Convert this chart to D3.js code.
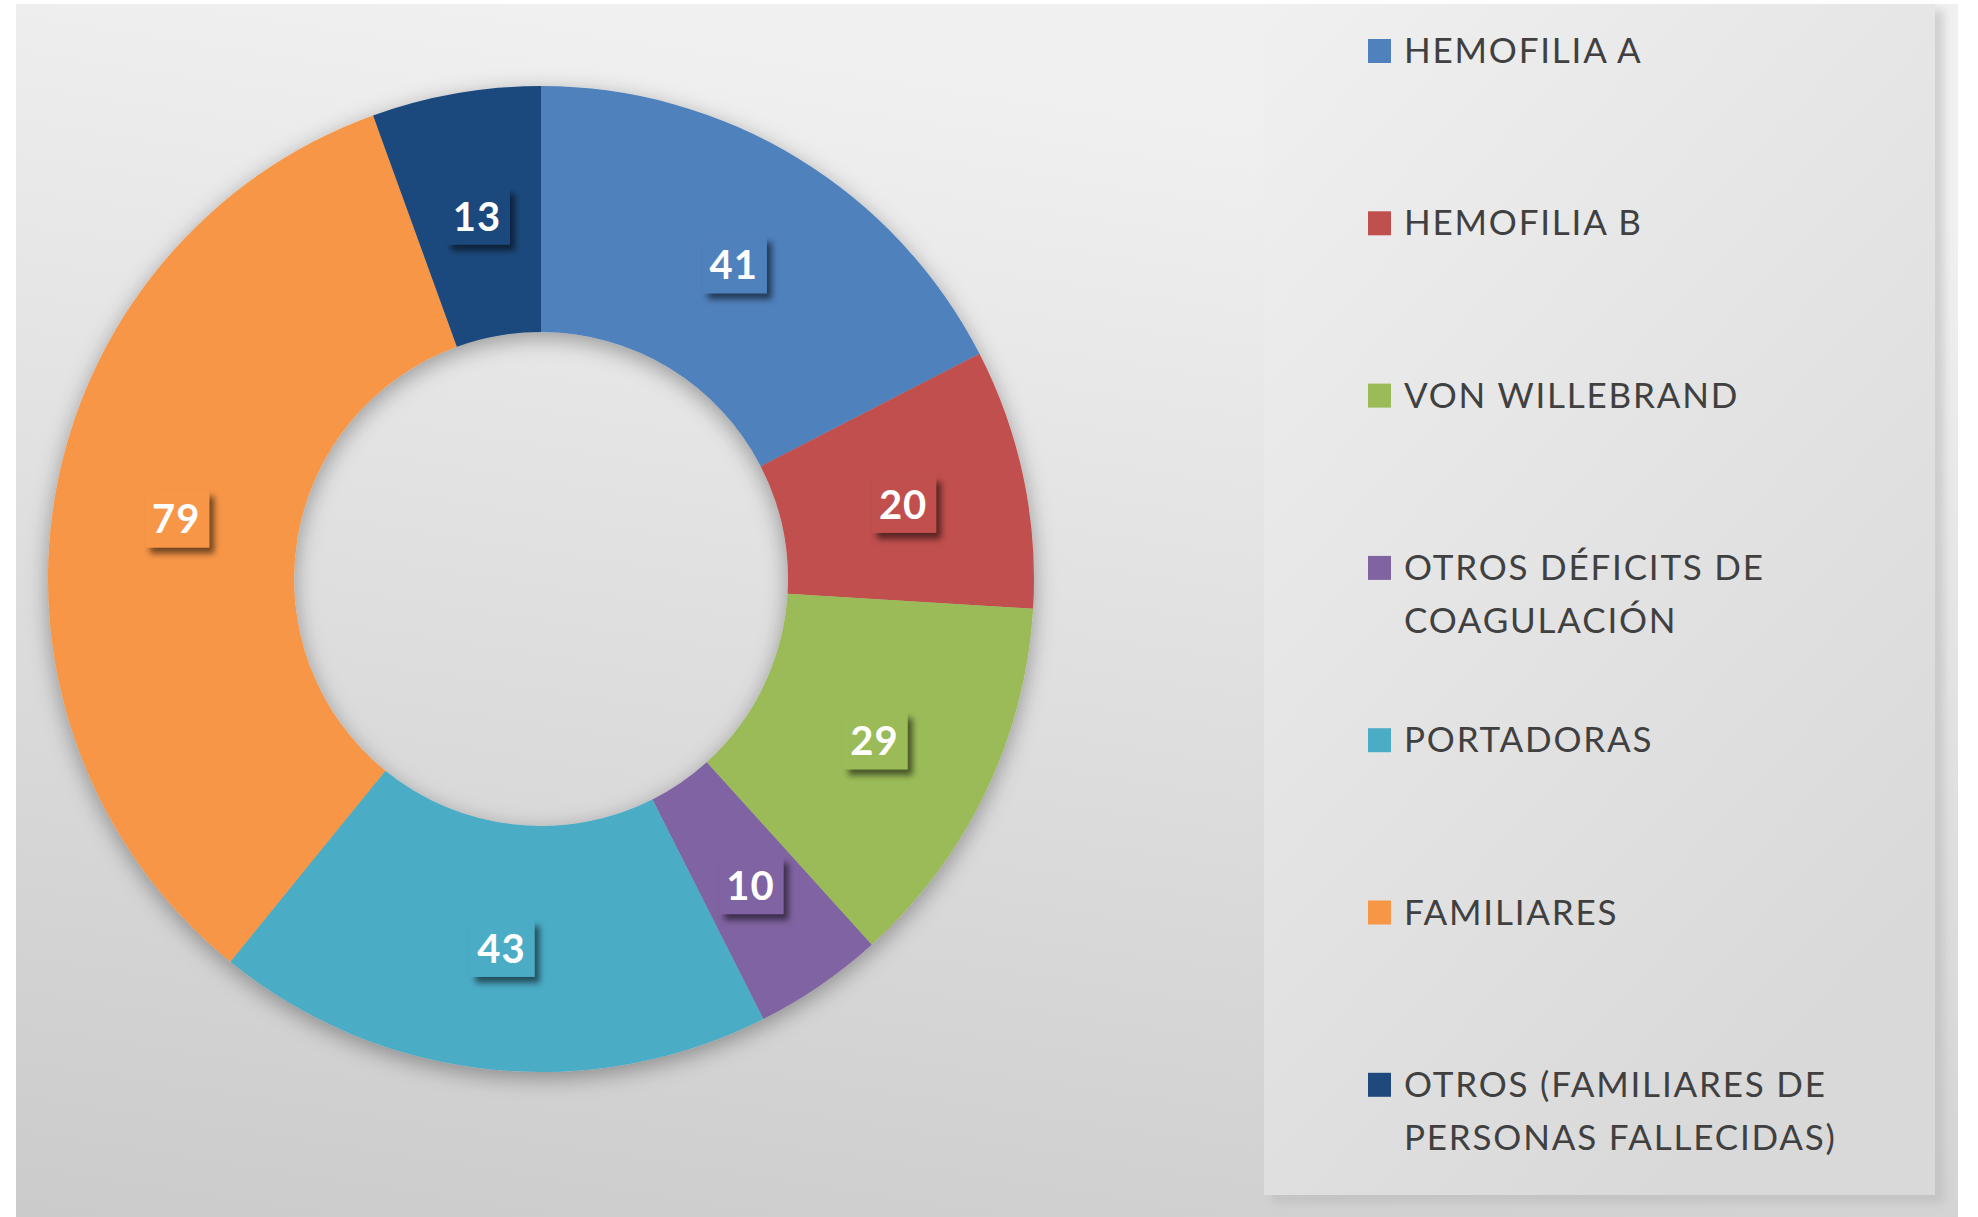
<!DOCTYPE html>
<html><head><meta charset="utf-8">
<script src="https://cdn.jsdelivr.net/npm/d3@7"></script>
<style>html,body{margin:0;padding:0;background:#fff;overflow:hidden}</style>
</head><body>
<svg id="c" width="1978" height="1217"></svg>
<script>
const categories = ["HEMOFILIA A","HEMOFILIA B","VON WILLEBRAND","OTROS DÉFICITS DE COAGULACIÓN","PORTADORAS","FAMILIARES","OTROS (FAMILIARES DE PERSONAS FALLECIDAS)"];
const legendLines = [["HEMOFILIA A"],["HEMOFILIA B"],["VON WILLEBRAND"],["OTROS DÉFICITS DE","COAGULACIÓN"],["PORTADORAS"],["FAMILIARES"],["OTROS (FAMILIARES DE","PERSONAS FALLECIDAS)"]];
const values = [41,20,29,10,43,79,13];
const colors = ["#4F81BD","#C0504D","#9BBB59","#8064A2","#4BACC6","#F79646","#1F497D"];

const svg = d3.select("#c");
const defs = svg.append("defs");

// background gradient
const bg = defs.append("linearGradient").attr("id","bgG").attr("x1","0.25").attr("y1","0").attr("x2","0").attr("y2","1");
bg.append("stop").attr("offset","0").attr("stop-color","#f0f0f0");
bg.append("stop").attr("offset","1").attr("stop-color","#cbcbcb");
const pg = defs.append("linearGradient").attr("id","pgG").attr("x1","0").attr("y1","0").attr("x2","0.6").attr("y2","1");
pg.append("stop").attr("offset","0").attr("stop-color","#f0f0f0");
pg.append("stop").attr("offset","1").attr("stop-color","#d9d9d9");

const f1 = defs.append("filter").attr("id","ringSh").attr("x","-20%").attr("y","-20%").attr("width","140%").attr("height","140%");
f1.append("feDropShadow").attr("dx",0).attr("dy",6).attr("stdDeviation",11).attr("flood-color","#000").attr("flood-opacity",0.34);
const f2 = defs.append("filter").attr("id","boxSh").attr("x","-30%").attr("y","-30%").attr("width","170%").attr("height","170%");
f2.append("feDropShadow").attr("dx",5).attr("dy",6).attr("stdDeviation",3).attr("flood-color","#000").attr("flood-opacity",0.55);
const f3 = defs.append("filter").attr("id","panelSh").attr("x","-10%").attr("y","-10%").attr("width","120%").attr("height","120%");
f3.append("feGaussianBlur").attr("stdDeviation",4);

svg.append("rect").attr("x",16).attr("y",4).attr("width",1942).attr("height",1213).attr("fill","url(#bgG)");

// legend panel with shadow
svg.append("rect").attr("x",1272).attr("y",10).attr("width",672).attr("height",1193).attr("fill","#b8b8b8").attr("opacity",0.55).attr("filter","url(#panelSh)");
svg.append("rect").attr("x",1264).attr("y",4).attr("width",671).attr("height",1191).attr("fill","url(#pgG)");

// donut
const cx = 541, cy = 579, R = 493, r = 247;
const pie = d3.pie().sort(null).value(d => d)(values);
const arc = d3.arc().innerRadius(r).outerRadius(R);
const g = svg.append("g").attr("transform",`translate(${cx},${cy})`);
g.append("g").attr("filter","url(#ringSh)")
  .selectAll("path").data(pie).join("path")
  .attr("d",arc).attr("fill",(d,i)=>colors[i]);

// data labels
const labelArc = d3.arc().innerRadius((r+R)/2).outerRadius((r+R)/2);
const lab = g.selectAll("g.lab").data(pie).join("g").attr("class","lab")
  .attr("transform",d=>`translate(${labelArc.centroid(d)})`);
lab.append("rect").attr("x",-31).attr("y",-27).attr("width",64).attr("height",57)
  .attr("fill",(d,i)=>colors[i]).attr("filter","url(#boxSh)");
lab.append("text").attr("text-anchor","middle").attr("y",16)
  .attr("font-family","Lato, 'Open Sans', sans-serif").attr("font-weight","bold").attr("font-size",40)
  .attr("letter-spacing",1).attr("fill","#fff").text(d=>d.data);

// legend
const lg = svg.append("g");
const items = lg.selectAll("g").data(categories).join("g")
  .attr("transform",(d,i)=>`translate(1368,${63 + i*172.3})`);
items.append("rect").attr("x",0).attr("y",-24).attr("width",23).attr("height",24).attr("fill",(d,i)=>colors[i]);
items.each(function(d,i){
  const t = d3.select(this).append("text").attr("x",36).attr("y",0)
    .attr("font-family","Lato, 'Open Sans', sans-serif").attr("font-size",35)
    .attr("letter-spacing",1.8).attr("fill","#404040");
  legendLines[i].forEach((ln,j)=>{
    t.append("tspan").attr("x",36).attr("y",j*53).text(ln);
  });
});
</script>
</body></html>
